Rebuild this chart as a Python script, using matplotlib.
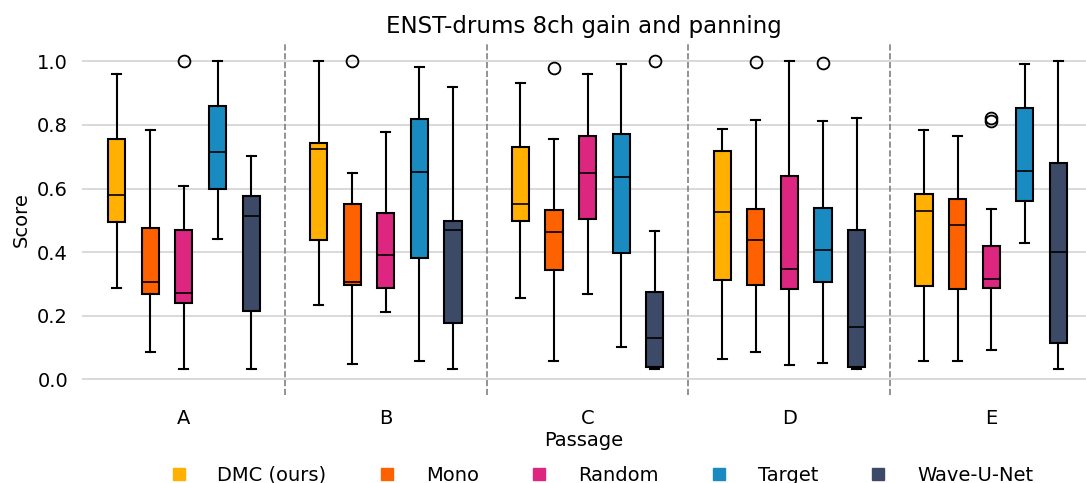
import numpy as np
import matplotlib.pyplot as plt
from matplotlib.lines import Line2D

# Box statistics
passages = ['A', 'B', 'C', 'D', 'E']
methods = ['DMC (ours)', 'Mono', 'Random', 'Target', 'Wave-U-Net']
colors = ['#FFB000', '#FE6100', '#DC267F', '#1A8BC0', '#3C4A67']

# [whislo, q1, med, q3, whishi] for each passage A..E
dmc = [[0.286, 0.495, 0.579, 0.755, 0.960],
       [0.234, 0.438, 0.726, 0.744, 1.000],
       [0.256, 0.499, 0.551, 0.732, 0.932],
       [0.064, 0.311, 0.526, 0.718, 0.788],
       [0.057, 0.292, 0.530, 0.584, 0.785]]
mono = [[0.084, 0.269, 0.307, 0.477, 0.783],
        [0.048, 0.295, 0.305, 0.550, 0.648],
        [0.057, 0.342, 0.462, 0.533, 0.757],
        [0.085, 0.295, 0.437, 0.535, 0.816],
        [0.056, 0.284, 0.485, 0.567, 0.765]]
rand = [[0.031, 0.239, 0.271, 0.470, 0.607],
        [0.211, 0.288, 0.390, 0.523, 0.779],
        [0.269, 0.505, 0.650, 0.764, 0.959],
        [0.043, 0.284, 0.348, 0.641, 1.000],
        [0.093, 0.288, 0.315, 0.418, 0.537]]
target = [[0.441, 0.598, 0.715, 0.860, 1.000],
          [0.057, 0.381, 0.653, 0.820, 0.984],
          [0.100, 0.396, 0.636, 0.772, 0.992],
          [0.052, 0.307, 0.407, 0.538, 0.813],
          [0.427, 0.562, 0.654, 0.852, 0.992]]
wave = [[0.033, 0.216, 0.515, 0.577, 0.702],
        [0.031, 0.177, 0.468, 0.498, 0.919],
        [0.031, 0.038, 0.128, 0.274, 0.465],
        [0.031, 0.039, 0.165, 0.469, 0.823],
        [0.031, 0.115, 0.400, 0.681, 1.000]]

# outliers per method, per passage
dmc_fl = [[], [], [], [], []]
mono_fl = [[], [1.0], [0.978], [0.999], []]
rand_fl = [[1.0], [], [], [], [0.823, 0.813]]
target_fl = [[], [], [], [0.996], []]
wave_fl = [[], [], [1.0], [], []]

all_stats = [dmc, mono, rand, target, wave]
all_fliers = [dmc_fl, mono_fl, rand_fl, target_fl, wave_fl]

fig = plt.figure(figsize=(10.86, 4.83), dpi=100)
ax = fig.add_axes([82 / 1086, 88 / 483, 1 - 82 / 1086, 351 / 483])

offsets = np.linspace(-0.333, 0.333, 5)
for k in range(len(methods)):
    stats = []
    for i in range(len(passages)):
        lo, q1, med, q3, hi = all_stats[k][i]
        stats.append({'whislo': lo, 'q1': q1, 'med': med, 'q3': q3,
                      'whishi': hi, 'fliers': all_fliers[k][i]})
    pos = np.arange(len(passages)) + offsets[k]
    ax.bxp(stats, positions=pos, widths=0.085, patch_artist=True,
           boxprops=dict(facecolor=colors[k], edgecolor='black', linewidth=1.5),
           medianprops=dict(color='black', linewidth=1.2),
           whiskerprops=dict(color='black', linewidth=1.5),
           capprops=dict(color='black', linewidth=1.5),
           flierprops=dict(marker='o', markerfacecolor='none',
                           markeredgecolor='black', markersize=8.5, markeredgewidth=1.3),
           capwidths=0.045, manage_ticks=False, zorder=3)

for x in [0.5, 1.5, 2.5, 3.5]:
    ax.axvline(x, color='gray', linestyle='--', linewidth=1.2, zorder=1)

ax.set_xlim(-0.505, 4.47)
ax.set_ylim(-0.05, 1.055)
ax.set_yticks([0.0, 0.2, 0.4, 0.6, 0.8, 1.0])
ax.set_xticks(range(len(passages)))
ax.set_xticklabels(passages)
ax.yaxis.grid(True, color='#d3d3d3', linewidth=1.2, zorder=0)
ax.set_axisbelow(True)
for s in ax.spines.values():
    s.set_visible(False)
ax.tick_params(length=0, labelsize=14, pad=10)
ax.set_title('ENST-drums 8ch gain and panning', fontsize=16.5, pad=8)
ax.set_xlabel('Passage', fontsize=14, labelpad=2)
ax.set_ylabel('Score', fontsize=14, labelpad=4.5)

handles = [Line2D([], [], marker='s', linestyle='none', color=c, markersize=9)
           for c in colors]
fig.legend(handles, methods, loc='center', bbox_to_anchor=(0.549, 0.016),
           ncol=5, frameon=False, fontsize=14, columnspacing=2.1,
           handletextpad=1.0, borderpad=0.2)

fig.savefig('out.png', dpi=100)
